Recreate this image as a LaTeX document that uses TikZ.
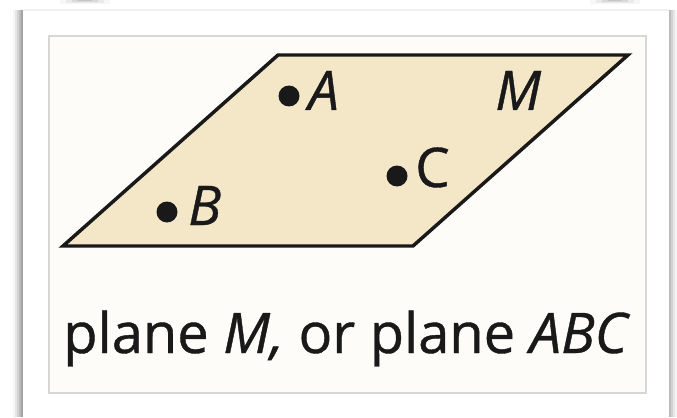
\documentclass[tikz,border=0pt]{standalone}
\usepackage{fontspec}
\setmainfont{Open Sans}[UprightFeatures={FakeBold=0.7},ItalicFeatures={FakeBold=0.7}]
\definecolor{planefill}{RGB}{243,231,199}
\definecolor{boxfill}{RGB}{253,252,249}
\definecolor{boxline}{RGB}{215,215,215}
\definecolor{ink}{RGB}{25,25,25}
\tikzset{
  lbl/.style={inner sep=0pt, anchor=base west, font=\fontsize{41}{44}\selectfont\itshape, text=ink},
  ptdot/.style={circle, fill=ink, inner sep=0pt, minimum size=21*0.75pt},
  uprt/.style={inner sep=0pt, anchor=base west, font=\fontsize{42}{44}\selectfont, text=ink}
}
\begin{document}
\begin{tikzpicture}[x=0.75pt,y=-0.75pt]
\useasboundingbox (0,0) rectangle (677,417);
\fill[white] (0,0) rectangle (677,417);
% shadows of card
\foreach \i/\o in {0/0.04,2/0.06,4/0.08,6/0.10,8/0.13}{
  \fill[black,opacity=\o] (13+\i,10) rectangle (23,417);
  \fill[black,opacity=\o] (677-\i,10) rectangle (669,417);
}
\foreach \i/\o in {0/0.03,1/0.05,2/0.07,3/0.09}{
  \fill[black,opacity=\o] (60+\i*6,0) rectangle (110-\i*6,4-\i);
  \fill[black,opacity=\o] (590+\i*6,0) rectangle (640-\i*6,4-\i);
}
\fill[white] (23,10) rectangle (669,417);
\draw[black!6,line width=1.5pt] (23,10.5) -- (669,10.5);
% inner box
\draw[boxline,fill=boxfill,line width=0.9pt] (49,36) rectangle (646,393);
% plane
\draw[ink,fill=planefill,line width=2.6pt,line join=miter] (63,246) -- (413,246) -- (628,55) -- (278,55) -- cycle;
\node[ptdot] (a) at (289,96) {};
\node[ptdot] (b) at (167,212) {};
\node[ptdot] (c) at (397,176) {};
\node[lbl] (la) at (308,110) {A};
\node[lbl] (lb) at (188,225) {B};
\node[uprt, font=\fontsize{41}{44}\selectfont] (lc) at (415,187) {C};
\node[lbl] (lm) at (495,110) {M};
\node[uprt] (caption) at (63,353) {plane \textit{M,} or plane \textit{ABC}};
\end{tikzpicture}
\end{document}
